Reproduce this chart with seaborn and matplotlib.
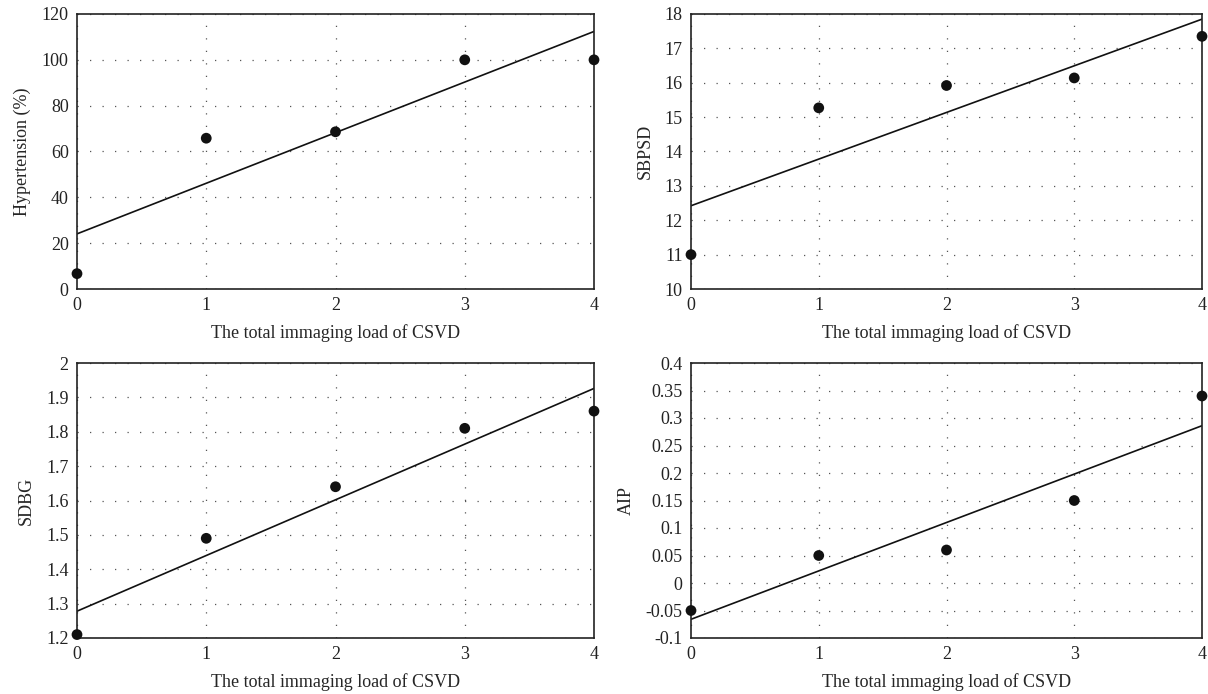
import numpy as np
import pandas as pd
import matplotlib
matplotlib.use("Agg")
import matplotlib.pyplot as plt
import seaborn as sns

# dados
load = [0, 1, 2, 3, 4]
hypertension = [6.7, 65.8, 68.6, 100, 100]
sbpsd = [11.0, 15.27, 15.92, 16.14, 17.35]
sdbg = [1.21, 1.49, 1.64, 1.81, 1.86]
aip = [-0.05, 0.05, 0.06, 0.15, 0.34]

xlabel = 'The total immaging load of CSVD'

sns.set_style('white')
plt.rcParams['font.family'] = ['Liberation Serif', 'DejaVu Serif']
plt.rcParams['font.size'] = 13

fig = plt.figure(figsize=(12.08, 6.94), dpi=100)

paineis = [
    (hypertension, 'Hypertension (%)', (0, 120), np.arange(0, 121, 20), [77, 14, 594, 289]),
    (sbpsd, 'SBPSD', (10, 18), np.arange(10, 18.1, 1), [691, 14, 1202, 289]),
    (sdbg, 'SDBG', (1.2, 2.0), np.arange(1.2, 2.01, 0.1), [77, 363, 594, 638]),
    (aip, 'AIP', (-0.1, 0.4), np.arange(-0.1, 0.401, 0.05), [691, 363, 1202, 638]),
]

W, H = 1208, 694
for valores, nome, ylim, yticks, (x0, y0, x1, y1) in paineis:
    ax = fig.add_axes([x0 / W, 1 - y1 / H, (x1 - x0) / W, (y1 - y0) / H])
    df = pd.DataFrame({'x': load, 'y': valores})
    sns.regplot(data=df, x='x', y='y', ci=None, ax=ax,
                scatter_kws={'s': 60, 'color': '#111111', 'alpha': 1, 'clip_on': False,
                             'zorder': 5, 'edgecolor': 'none'},
                line_kws={'color': '#111111', 'linewidth': 1.2})
    ax.set_xlim(0, 4)
    ax.set_ylim(*ylim)
    ax.set_xticks(load)
    ax.set_yticks(yticks)
    ax.set_yticklabels(['{:g}'.format(round(v, 2)) if abs(v) > 1e-9 else '0' for v in yticks])
    ax.set_xlabel(xlabel, labelpad=7)
    ax.set_ylabel(nome, labelpad=8)
    ax.tick_params(axis='x', length=0, pad=6, colors='#222222')
    ax.tick_params(axis='y', length=0, pad=6, colors='#222222')
    ax.grid(True, linestyle=(0, (1, 9)), color='#555555', linewidth=0.9)
    for s in ax.spines.values():
        s.set_color('#222222')
        s.set_linewidth(1.2)
        s.set_visible(True)

fig.savefig('out.png', dpi=100)
